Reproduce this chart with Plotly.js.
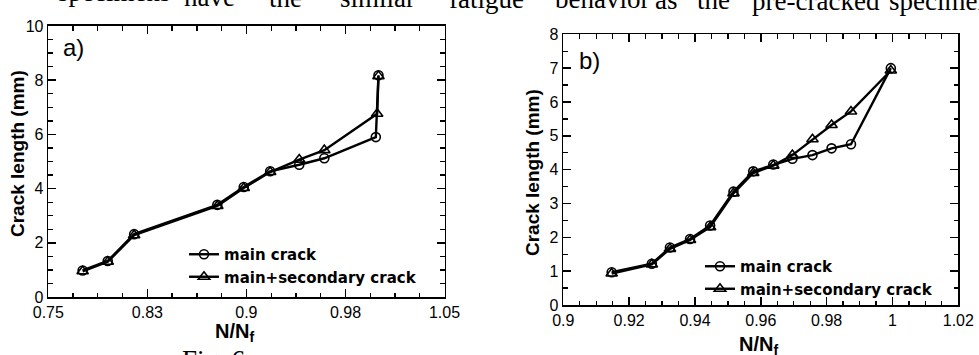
<!DOCTYPE html>
<html>
<head>
<meta charset="utf-8">
<script src="https://cdn.plot.ly/plotly-3.0.1.min.js"></script>
<style>html,body{margin:0;padding:0;background:#fff;}#chart{width:979px;height:355px;}</style>
</head>
<body>
<div id="chart"></div>
<script>
// ---- Data: panel a) ----
var xA      = [0.776, 0.795, 0.815, 0.878, 0.898, 0.918, 0.940, 0.959, 0.998, 1.000];
var xA2     = [0.776, 0.795, 0.815, 0.878, 0.898, 0.918, 0.940, 0.959, 0.999, 1.000];
var mainA   = [0.98, 1.33, 2.32, 3.40, 4.06, 4.64, 4.88, 5.12, 5.90, 8.18];
var secA    = [0.95, 1.30, 2.28, 3.36, 4.02, 4.61, 5.07, 5.42, 6.76, 8.15];
var xTickValsA = [0.75, 0.825, 0.9, 0.975, 1.05];
var xTickTextA = ['0.75', '0.83', '0.9', '0.98', '1.05'];

// ---- Data: panel b) ----
var xB      = [0.9147, 0.9269, 0.9324, 0.9385, 0.9446, 0.9517, 0.9577, 0.9638, 0.9696, 0.9757, 0.9815, 0.9874, 0.9995];
var mainB   = [0.97, 1.22, 1.70, 1.95, 2.35, 3.35, 3.95, 4.15, 4.32, 4.43, 4.63, 4.75, 7.00];
var secB    = [0.93, 1.20, 1.66, 1.92, 2.30, 3.30, 3.90, 4.12, 4.43, 4.90, 5.32, 5.72, 6.93];
var xTickValsB = [0.9, 0.92, 0.94, 0.96, 0.98, 1.0, 1.02];
var xTickTextB = ['0.9', '0.92', '0.94', '0.96', '0.98', '1', '1.02'];

var seriesNames = ['main crack', 'main+secondary crack'];

// ---- Layout helpers ----
var W = 979, H = 355;
function px(x){ return x / W; }
function py(y){ return 1 - y / H; }

var lineStyle = {color: '#000', width: 2.4};
var circ = {symbol: 'circle-open', size: 9, color: '#000', line: {width: 1.6, color: '#000'}};
var tri  = {symbol: 'triangle-up-open', size: 10, color: '#000', line: {width: 1.6, color: '#000'}};

var traces = [
  {x: xA, y: mainA, name: seriesNames[0], mode: 'lines+markers', line: lineStyle, marker: circ, xaxis: 'x', yaxis: 'y', legend: 'legend'},
  {x: xA2, y: secA, name: seriesNames[1], mode: 'lines+markers', line: lineStyle, marker: tri, xaxis: 'x', yaxis: 'y', legend: 'legend'},
  {x: xB, y: mainB, name: seriesNames[0], mode: 'lines+markers', line: lineStyle, marker: circ, xaxis: 'x2', yaxis: 'y2', legend: 'legend2'},
  {x: xB, y: secB, name: seriesNames[1], mode: 'lines+markers', line: lineStyle, marker: tri, xaxis: 'x2', yaxis: 'y2', legend: 'legend2'}
];

var tickFont = {family: 'Liberation Sans, Arial, sans-serif', size: 16, color: '#000'};
function axisBase(){
  return {
    showline: true, linecolor: '#000', linewidth: 1.6, mirror: 'ticks',
    ticks: 'inside', ticklen: 8, tickwidth: 1.5, tickcolor: '#000',
    showgrid: false, zeroline: false, tickfont: tickFont, fixedrange: true
  };
}

var xa = Object.assign(axisBase(), {domain: [px(48.3), px(444.5)], range: [0.75, 1.05], tickmode: 'array', tickvals: xTickValsA, ticktext: xTickTextA, anchor: 'y',
  minor: {dtick: 0.01875, tick0: 0.75, ticks: 'inside', ticklen: 4.5, tickwidth: 1.3, tickcolor: '#000', showgrid: false}});
var ya = Object.assign(axisBase(), {domain: [py(297), py(26)], range: [0, 10], dtick: 2, tick0: 0, anchor: 'x',
  minor: {dtick: 0.5, ticks: 'inside', ticklen: 4.5, tickwidth: 1.3, tickcolor: '#000', showgrid: false}});
var xb = Object.assign(axisBase(), {domain: [px(563.3), px(958.3)], range: [0.9, 1.02], tickmode: 'array', tickvals: xTickValsB, ticktext: xTickTextB, anchor: 'y2',
  minor: {dtick: 0.005, tick0: 0.9, ticks: 'inside', ticklen: 4.5, tickwidth: 1.3, tickcolor: '#000', showgrid: false}});
var yb = Object.assign(axisBase(), {domain: [py(305), py(34.3)], range: [0, 8], dtick: 1, tick0: 0, anchor: 'x2',
  minor: {dtick: 0.5, ticks: 'inside', ticklen: 4.5, tickwidth: 1.3, tickcolor: '#000', showgrid: false}});

var legFont = {family: 'DejaVu Sans, sans-serif', size: 15, color: '#000', weight: 'bold'};
var titleFont = {family: 'Liberation Sans, Arial, sans-serif', size: 19, color: '#000', weight: 'bold'};
var xTitleFont = {family: 'Liberation Sans, Arial, sans-serif', size: 20, color: '#000', weight: 'bold'};
var serif = {family: 'Liberation Serif, Times New Roman, serif', size: 27, color: '#000'};

var annotations = [
  {text: 'Crack length (mm)', textangle: -90, x: px(17), y: py(154), xref: 'paper', yref: 'paper', showarrow: false, font: titleFont, xanchor: 'center', yanchor: 'middle'},
  {text: 'Crack length (mm)', textangle: -90, x: px(532), y: py(173), xref: 'paper', yref: 'paper', showarrow: false, font: titleFont, xanchor: 'center', yanchor: 'middle'},
  {text: 'N/N<sub>f</sub>', x: px(234), y: py(332), xref: 'paper', yref: 'paper', showarrow: false, font: xTitleFont, xanchor: 'center', yanchor: 'middle'},
  {text: 'N/N<sub>f</sub>', x: px(758), y: py(345), xref: 'paper', yref: 'paper', showarrow: false, font: xTitleFont, xanchor: 'center', yanchor: 'middle'},
  {text: 'a)', x: px(73), y: py(47), xref: 'paper', yref: 'paper', showarrow: false, font: {family: tickFont.family, size: 24, color: '#000'}, xanchor: 'center', yanchor: 'middle'},
  {text: 'b)', x: px(589), y: py(60), xref: 'paper', yref: 'paper', showarrow: false, font: {family: tickFont.family, size: 24, color: '#000'}, xanchor: 'center', yanchor: 'middle'}
];

// Clipped running text of the page around the figure (scan is slightly tilted)
var bodyWords = ['specimens', 'have', 'the', 'similar', 'fatigue', 'behavior', 'as', 'the', 'pre-cracked', 'specimens'];
var bodyWordX = [172, 182, 267, 338, 447, 553, 653, 695, 750, 887];
bodyWords.forEach(function(w, i){
  var bottom = (i === 0) ? 9 : 16 + 0.006 * (bodyWordX[i] - 500);
  annotations.push({text: w, x: px(bodyWordX[i]), y: py(bottom), xref: 'paper', yref: 'paper', showarrow: false,
    font: serif, xanchor: i === 0 ? 'right' : 'left', yanchor: 'bottom'});
});
annotations.push({text: 'Fig. 6', x: px(180), y: py(343), xref: 'paper', yref: 'paper', showarrow: false, font: serif, xanchor: 'left', yanchor: 'top'});

var layout = {
  width: W, height: H,
  margin: {l: 0, r: 0, t: 0, b: 0},
  paper_bgcolor: '#fff', plot_bgcolor: '#fff',
  showlegend: true,
  xaxis: xa, yaxis: ya, xaxis2: xb, yaxis2: yb,
  legend: {x: px(184), y: py(238), xanchor: 'left', yanchor: 'top', bgcolor: 'rgba(0,0,0,0)', font: legFont, tracegroupgap: 0, itemwidth: 30},
  legend2: {x: px(700), y: py(250), xanchor: 'left', yanchor: 'top', bgcolor: 'rgba(0,0,0,0)', font: legFont, tracegroupgap: 0, itemwidth: 30},
  annotations: annotations
};

Plotly.newPlot('chart', traces, layout, {staticPlot: true, displayModeBar: false});
</script>
</body>
</html>
